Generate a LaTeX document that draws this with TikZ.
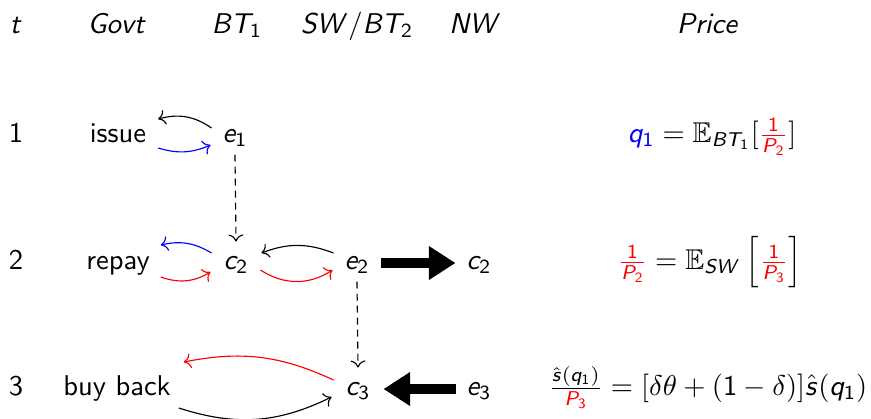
\documentclass[tikz,border=0pt]{standalone}
\usepackage{amssymb}
\usetikzlibrary{arrows.meta}
\renewcommand{\familydefault}{\sfdefault}
\DeclareSymbolFont{sfletters}{OT1}{cmss}{m}{sl}
\DeclareSymbolFont{sfdigits}{OT1}{cmss}{m}{n}
\makeatletter
\def\sfml#1{\DeclareMathSymbol{#1}{\mathalpha}{sfletters}{`#1}}
\def\sfmd#1{\DeclareMathSymbol{#1}{\mathalpha}{sfdigits}{`#1}}
\@tfor\x:=abcdefghijklmnopqrstuvwxyzABCDEFGHIJKLMNOPQRSTUVWXYZ\do{\expandafter\sfml\x}
\@tfor\x:=0123456789\do{\expandafter\sfmd\x}
\makeatother
\begin{document}
\begin{tikzpicture}[x=0.35pt,y=0.35pt,
  lbl/.style={anchor=mid},
  thin arrow/.style={->},
  dasharrow/.style={->,dash pattern=on 2.4pt off 1.8pt},
  bigarrow/.style={line width=3.2pt,-{Triangle[length=9.3pt,width=11.2pt]}}]
\useasboundingbox (0,0) rectangle (871,-418);
% header
\node[anchor=base] (ht) at (16,-33) {$t$};
\node[anchor=base] (hg) at (117,-33) {$Govt$};
\node[anchor=base] (hb) at (237,-33) {$BT_1$};
\node[anchor=base] (hs) at (357,-33) {$SW/BT_2$};
\node[anchor=base] (hn) at (475,-33) {$NW$};
\node[anchor=base] (hp) at (708,-33) {$Price$};
% row 1
\node[lbl] (r1) at (16,-136) {1};
\node[lbl] (issue) at (118,-136) {issue};
\node[lbl] (e1) at (235,-136) {$e_1$};
\node[lbl] (f1) at (712,-136) {${\color{blue}q_1} = \mathbb{E}_{BT_1}[{\color{red}\frac{1}{P_2}}]$};
% row 2
\node[lbl] (r2) at (16,-263) {2};
\node[lbl] (repay) at (118,-263) {repay};
\node[lbl] (c2) at (236,-263) {$c_2$};
\node[lbl] (e2) at (357,-263) {$e_2$};
\node[lbl] (c2r) at (479,-263) {$c_2$};
\node[lbl] (f2) at (710,-263) {${\color{red}\frac{1}{P_2}} = \mathbb{E}_{SW}\left[{\color{red}\frac{1}{P_3}}\right]$};
% row 3
\node[lbl] (r3) at (16,-389) {3};
\node[lbl] (bb) at (117,-389) {buy back};
\node[lbl] (c3) at (358,-389) {$c_3$};
\node[lbl] (e3) at (479,-389) {$e_3$};
\node[lbl] (f3) at (708,-389) {$\frac{\hat{s}(q_1)}{\color{red}P_3} = [\delta\theta + (1-\delta)]\hat{s}(q_1)$};
% row 1 arrows
\draw[thin arrow] ([shift={(-1,8)}]e1.mid west) to[bend right=25] ([shift={(2,17)}]issue.mid east);
\draw[thin arrow,blue] ([shift={(2,-12)}]issue.mid east) to[bend right=20] ([shift={(-2,-9)}]e1.mid west);
% dashed
\draw[dasharrow] ([shift={(0,2)}]e1.south) -- ([shift={(0,5)}]c2.north);
\draw[dasharrow] ([shift={(0,2)}]e2.south) -- ([shift={(0,5)}]c3.north);
% row 2 arrows
\draw[thin arrow,blue] ([shift={(-2,10)}]c2.mid west) to[bend right=22] ([shift={(1,18)}]repay.mid east);
\draw[thin arrow,red] ([shift={(1,-14)}]repay.mid east) to[bend right=25] ([shift={(-3,-9)}]c2.mid west);
\draw[thin arrow] ([shift={(-1,10)}]e2.mid west) to[bend right=21] ([shift={(3,10)}]c2.mid east);
\draw[thin arrow,red] ([shift={(2,-7)}]c2.mid east) to[bend right=33] ([shift={(-2,-7)}]e2.mid west);
\draw[bigarrow] ([shift={(2,0)}]e2.mid east) -- ([shift={(-1,0)}]c2r.mid west);
% row 3 arrows
\draw[thin arrow,red] ([shift={(-2,9)}]c3.mid west) to[bend right=18] ([shift={(3,27)}]bb.mid east);
\draw[thin arrow] ([shift={(-2,-19)}]bb.mid east) to[bend right=22] ([shift={(-4,-8)}]c3.mid west);
\draw[bigarrow] ([shift={(-1,0)}]e3.mid west) -- ([shift={(3,0)}]c3.mid east);
\end{tikzpicture}
\end{document}
